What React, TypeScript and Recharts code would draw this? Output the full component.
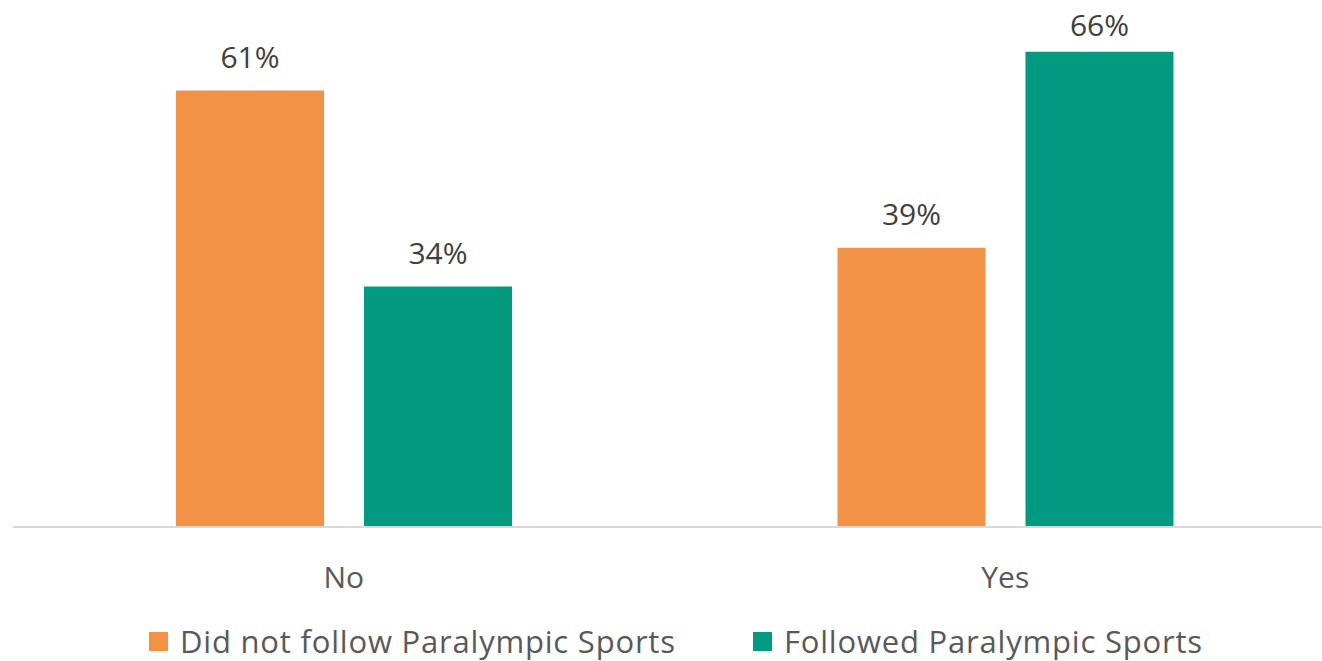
import React from 'react';
import { BarChart, Bar, XAxis, YAxis, Legend, LabelList } from 'recharts';

const categories = ['No', 'Yes'];
const didNotFollow = [0.61, 0.39];
const followed = [0.336, 0.664];

const data = categories.map((name, i) => ({
  name,
  didNotFollow: didNotFollow[i],
  followed: followed[i],
}));

const ORANGE = '#F19244';
const GREEN = '#039A82';
const FONT = '"Open Sans", "Noto Sans", sans-serif';

const pctLabel = (props: any) => {
  const { x, y, width, value } = props;
  // keep the top label inside the chart, like the original does
  const cy = Math.max(y - 34, 24);
  return (
    <text
      x={x + width / 2}
      y={cy}
      textAnchor="middle"
      dominantBaseline="central"
      fill="#404040"
      fontSize={30}
      fontFamily={FONT}
    >
      {Math.round(value * 100)}%
    </text>
  );
};

const CategoryTick = (props: any) => {
  const { x, y, payload } = props;
  return (
    <text
      x={x}
      y={y + 41}
      textAnchor="middle"
      dominantBaseline="central"
      fill="#595959"
      fontSize={30}
      fontFamily={FONT}
    >
      {payload.value}
    </text>
  );
};

const legendItems = [
  { label: 'Did not follow Paralympic Sports', color: ORANGE, left: 136 },
  { label: 'Followed Paralympic Sports', color: GREEN, left: 740 },
];

const LegendContent = () => (
  <div style={{ position: 'relative', height: 40, width: '100%' }}>
    {legendItems.map((it) => (
      <div
        key={it.label}
        style={{
          position: 'absolute',
          left: it.left,
          top: 0,
          height: 40,
          display: 'flex',
          alignItems: 'center',
          fontFamily: FONT,
          fontSize: 31,
          letterSpacing: 0.8,
          color: '#595959',
          whiteSpace: 'nowrap',
        }}
      >
        <span style={{ display: 'inline-block', width: 19, height: 19, background: it.color, marginRight: 12 }} />
        {it.label}
      </div>
    ))}
  </div>
);

export default function App() {
  return (
    <div style={{ position: 'fixed', left: 0, top: 0, width: 1322, height: 661, overflow: 'hidden', background: '#fff' }}>
      <BarChart
        width={1336}
        height={661}
        data={data}
        margin={{ top: 26, right: 0, left: 13, bottom: 0 }}
        barSize={148}
        barGap={40}
      >
        <XAxis
          dataKey="name"
          axisLine={{ stroke: '#D9D9D9', strokeWidth: 2 }}
          tickLine={false}
          tick={<CategoryTick />}
          height={94}
          interval={0}
        />
        <YAxis hide domain={[0, 0.7]} />
        <Legend verticalAlign="bottom" content={<LegendContent />} height={40} />
        <Bar dataKey="didNotFollow" fill={ORANGE} isAnimationActive={false}>
          <LabelList dataKey="didNotFollow" content={pctLabel} />
        </Bar>
        <Bar dataKey="followed" fill={GREEN} isAnimationActive={false}>
          <LabelList dataKey="followed" content={pctLabel} />
        </Bar>
      </BarChart>
    </div>
  );
}
